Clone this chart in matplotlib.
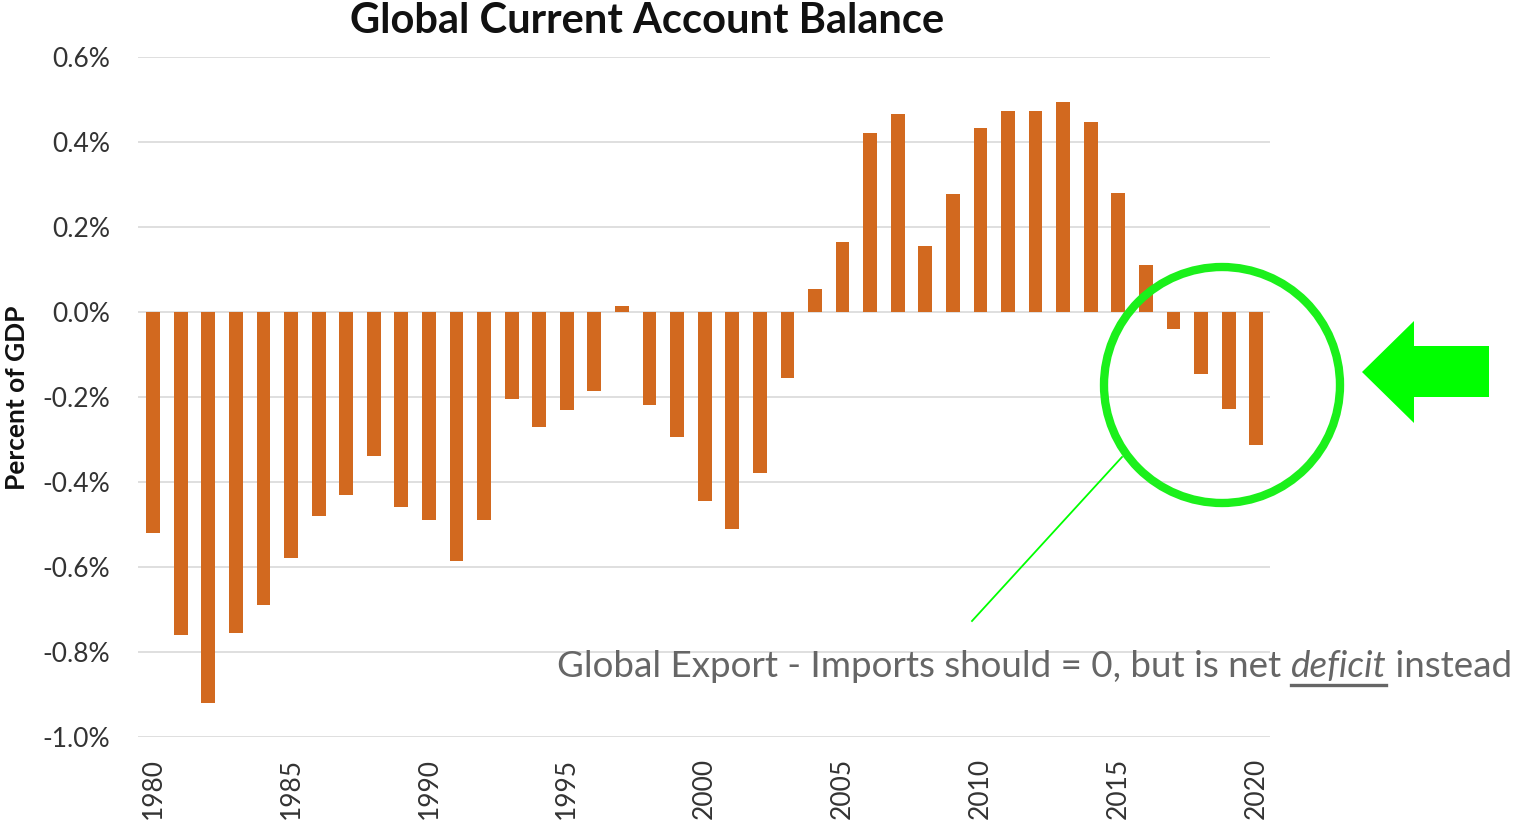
import matplotlib
matplotlib.use("Agg")
import matplotlib.pyplot as plt
from matplotlib.patches import Circle, Polygon
from matplotlib.lines import Line2D
from matplotlib.ticker import FuncFormatter, MultipleLocator

# Global current account balance, percent of world GDP
years = list(range(1980, 2021))
balance = [
    -0.52, -0.76, -0.92, -0.755, -0.69, -0.58, -0.48, -0.43, -0.34, -0.46,
    -0.49, -0.585, -0.49, -0.205, -0.27, -0.23, -0.185, 0.015, -0.22, -0.295,
    -0.445, -0.51, -0.38, -0.155, 0.055, 0.165, 0.42, 0.465, 0.155, 0.278,
    0.433, 0.473, 0.474, 0.494, 0.447, 0.28, 0.11, -0.04, -0.145, -0.228,
    -0.313,
]
xtick_years = [1980, 1985, 1990, 1995, 2000, 2005, 2010, 2015, 2020]

title = "Global Current Account Balance"
ylabel = "Percent of GDP"
note_before = "Global Export - Imports should = 0, but is net "
note_emph = "deficit"
note_after = " instead"

W, H = 1518, 822
fig = plt.figure(figsize=(W / 100, H / 100), dpi=100)
fig.patch.set_facecolor("white")

def px(x, y):
    """Pixel position (origin top-left) to figure fraction."""
    return x / W, 1 - y / H

ax = fig.add_axes([138 / W, 1 - 737 / H, (1270 - 138) / W, (737 - 57) / H])
ax.bar(years, balance, width=0.5, color="#D2691F", zorder=3)

ax.set_ylim(-1.0, 0.6)
ax.set_xlim(1979.45, 2020.5)
ax.yaxis.set_major_locator(MultipleLocator(0.2))
ax.yaxis.set_major_formatter(FuncFormatter(lambda v, _: f"{v:.1f}%"))
ax.grid(axis="y", color="#D9D9D9", linewidth=1.2, zorder=0)
ax.set_xticks(xtick_years)
ax.set_xticklabels([str(y) for y in xtick_years], rotation=90,
                   fontsize=19, family="Lato", color="#333333")
for lab in ax.get_yticklabels():
    lab.set_fontsize(19)
    lab.set_family("Lato")
    lab.set_color("#333333")
ax.tick_params(axis="both", length=0)
ax.tick_params(axis="y", pad=20)
ax.tick_params(axis="x", pad=15)
for s in ax.spines.values():
    s.set_visible(False)

fig.text(*px(647, 21), title, ha="center", va="center",
         fontsize=30, fontweight="bold", family="Lato", color="#111111")
fig.text(*px(17, 398), ylabel, ha="center", va="center", rotation=90,
         fontsize=19, fontweight="bold", family="Lato", color="#111111")

# Highlight of the recent deficit years
green = "#1BF01B"
circ = Circle((1222, H - 385), 118, transform=None, fill=False,
              edgecolor=green, linewidth=6)
fig.patches.append(circ)

arrow_pts = [(1362, 372), (1414, 321), (1414, 346), (1489, 346),
             (1489, 397), (1414, 397), (1414, 423)]
arrow = Polygon([(x, H - y) for x, y in arrow_pts], closed=True,
                transform=None, facecolor="#00FF00", edgecolor="none")
fig.patches.append(arrow)

fig.lines.append(Line2D([972 / W, 1122 / W], [1 - 621 / H, 1 - 457 / H],
                        transform=fig.transFigure, color="#00FF00",
                        linewidth=1.3))

# Annotation text with an italic, underlined word
fig.canvas.draw()
renderer = fig.canvas.get_renderer()
note_kw = dict(fontsize=26.5, family="Lato", color="#666666", va="baseline")
x0, base = px(557, 677)
t1 = fig.text(x0, base, note_before, **note_kw)
b1 = t1.get_window_extent(renderer)
t2 = fig.text(b1.x1 / W, base, note_emph, style="italic", **note_kw)
b2 = t2.get_window_extent(renderer)
t3 = fig.text(b2.x1 / W, base, note_after, **note_kw)
uy = base - 8 / H
fig.lines.append(Line2D([b2.x0 / W, b2.x1 / W], [uy, uy],
                        transform=fig.transFigure, color="#666666",
                        linewidth=2.4))

fig.savefig("out.png", dpi=100, facecolor="white")
